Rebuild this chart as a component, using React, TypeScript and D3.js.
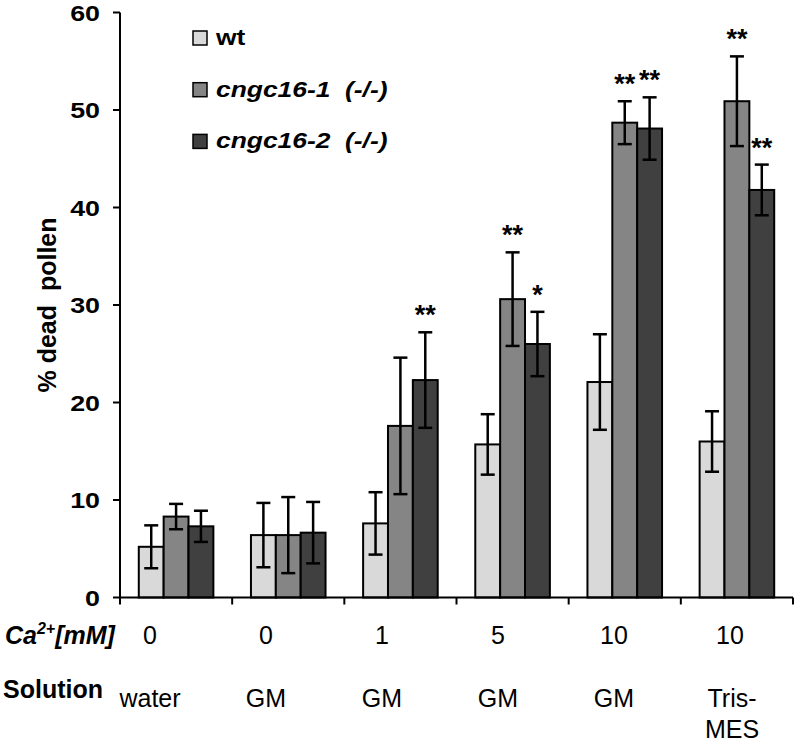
import React from "react";
import * as d3 from "d3";

const groups = ["g1", "g2", "g3", "g4", "g5", "g6"];
const caLabels = ["0", "0", "1", "5", "10", "10"];
const solutionLabels = [["water"], ["GM"], ["GM"], ["GM"], ["GM"], ["Tris-", "MES"]];
const seriesNames = ["wt", "cngc16-1", "cngc16-2"];
const seriesColors = ["#d9d9d9", "#858585", "#404040"];

const wtValues = [5.2, 6.4, 7.6, 15.7, 22.1, 16.0];
const wtErrors = [2.2, 3.3, 3.2, 3.1, 4.9, 3.1];
const c1Values = [8.3, 6.4, 17.6, 30.6, 48.7, 50.9];
const c1Errors = [1.3, 3.9, 7.0, 4.8, 2.2, 4.6];
const c2Values = [7.3, 6.65, 22.3, 26.0, 48.1, 41.8];
const c2Errors = [1.6, 3.15, 4.9, 3.3, 3.2, 2.6];
const wtSig = ["", "", "", "", "", ""];
const c1Sig = ["", "", "", "**", "**", "**"];
const c2Sig = ["", "", "**", "*", "**", "**"];
const yTicks = [0, 10, 20, 30, 40, 50, 60];

const FONT = "'Liberation Sans', Arial, Helvetica, sans-serif";

export default function App() {
  const W = 797, H = 742;
  const x0 = 120, x1 = 793, yTop = 12.5, yBot = 597.5;
  const series = [
    { name: seriesNames[0], values: wtValues, errors: wtErrors, sig: wtSig, color: seriesColors[0] },
    { name: seriesNames[1], values: c1Values, errors: c1Errors, sig: c1Sig, color: seriesColors[1] },
    { name: seriesNames[2], values: c2Values, errors: c2Errors, sig: c2Sig, color: seriesColors[2] },
  ];
  const y = d3.scaleLinear().domain([0, 60]).range([yBot, yTop]);
  const pad = 0.335;
  const xg = d3.scaleBand().domain(groups).range([x0, x1]).paddingInner(pad).paddingOuter(pad / 2);
  const xs = d3.scaleBand().domain(seriesNames).range([0, xg.bandwidth()]).padding(0);
  const step = xg.step();
  const boundaries = d3.range(groups.length + 1).map((i) => x0 + i * step);
  const labelX = d3.scaleLinear().domain([0, groups.length - 1]).range([150, 730]);
  const cap = 7;

  return (
    <svg width={W} height={H} style={{ position: "absolute", left: 0, top: 0, background: "#fff" }} fontFamily={FONT}>
      <rect x={0} y={0} width={W} height={H} fill="#fff" />
      {/* bars */}
      {series.map((s) =>
        groups.map((g, i) => {
          const bx = (xg(g) as number) + (xs(s.name) as number);
          return (
            <rect key={s.name + g} x={bx} y={y(s.values[i])} width={xs.bandwidth()} height={yBot - y(s.values[i])}
              fill={s.color} stroke="#000" strokeWidth={2} />
          );
        })
      )}
      {/* error bars */}
      {series.map((s) =>
        groups.map((g, i) => {
          const cx = (xg(g) as number) + (xs(s.name) as number) + xs.bandwidth() / 2;
          const hi = y(s.values[i] + s.errors[i]);
          const lo = y(s.values[i] - s.errors[i]);
          return (
            <g key={"e" + s.name + g} stroke="#000" strokeWidth={2.5}>
              <line x1={cx} x2={cx} y1={hi} y2={lo} />
              <line x1={cx - cap} x2={cx + cap} y1={hi} y2={hi} />
              <line x1={cx - cap} x2={cx + cap} y1={lo} y2={lo} />
            </g>
          );
        })
      )}
      {/* significance */}
      {series.map((s) =>
        groups.map((g, i) => {
          if (!s.sig[i]) return null;
          const cx = (xg(g) as number) + (xs(s.name) as number) + xs.bandwidth() / 2;
          const hi = y(s.values[i] + s.errors[i]);
          return (
            <text key={"s" + s.name + g} x={cx} y={hi - 8} textAnchor="middle" fontSize={27} fontWeight="bold" fill="#000">
              {s.sig[i]}
            </text>
          );
        })
      )}
      {/* axes */}
      <line x1={x0} x2={x0} y1={yTop} y2={yBot} stroke="#000" strokeWidth={2} />
      <line x1={x0} x2={x1} y1={yBot} y2={yBot} stroke="#000" strokeWidth={2} />
      {yTicks.map((t) => (
        <g key={"yt" + t}>
          <line x1={x0 - 7} x2={x0} y1={y(t)} y2={y(t)} stroke="#000" strokeWidth={2} />
          <text transform={`translate(100,${y(t) + 8}) scale(1.22,1)`} textAnchor="end" fontSize={22} fontWeight="bold">
            {t}
          </text>
        </g>
      ))}
      {boundaries.map((bx, i) => (
        <line key={"xt" + i} x1={bx} x2={bx} y1={yBot} y2={yBot + 7} stroke="#000" strokeWidth={2} />
      ))}
      {/* y axis title */}
      <text transform={`translate(56,${(yTop + yBot) / 2}) rotate(-90)`} textAnchor="middle" fontSize={25}
        fontWeight="bold" style={{ whiteSpace: "pre" }}>
        {"% dead  pollen"}
      </text>
      {/* legend */}
      {series.map((s, i) => {
        const base = 45 + i * 51.7;
        return (
          <g key={"lg" + s.name}>
            <rect x={193} y={base - 14} width={14} height={14} fill={s.color} stroke="#000" strokeWidth={1.5} />
            <text transform={`translate(216,${base}) scale(1.2,1)`} fontSize={22} fontWeight="bold"
              fontStyle={i === 0 ? "normal" : "italic"} style={{ whiteSpace: "pre" }}>
              {i === 0 ? s.name : s.name + "  (-/-)"}
            </text>
          </g>
        );
      })}
      {/* category rows */}
      <text x={5} y={644} fontSize={25} fontWeight="bold" fontStyle="italic">
        Ca<tspan fontSize={16} dy={-10}>2+</tspan><tspan dy={10}>[mM]</tspan>
      </text>
      {caLabels.map((c, i) => (
        <text key={"ca" + i} x={labelX(i)} y={644} fontSize={25} textAnchor="middle">{c}</text>
      ))}
      <text x={3} y={698} fontSize={25} fontWeight="bold">Solution</text>
      {solutionLabels.map((lines, i) => (
        <text key={"sol" + i} x={labelX(i) + (lines.length > 1 ? 2 : 0)} y={706.7} fontSize={25} textAnchor="middle">
          {lines.map((ln, j) => (
            <tspan key={j} x={labelX(i) + (lines.length > 1 ? 2 : 0)} dy={j === 0 ? 0 : 31.6}>{ln}</tspan>
          ))}
        </text>
      ))}
    </svg>
  );
}
